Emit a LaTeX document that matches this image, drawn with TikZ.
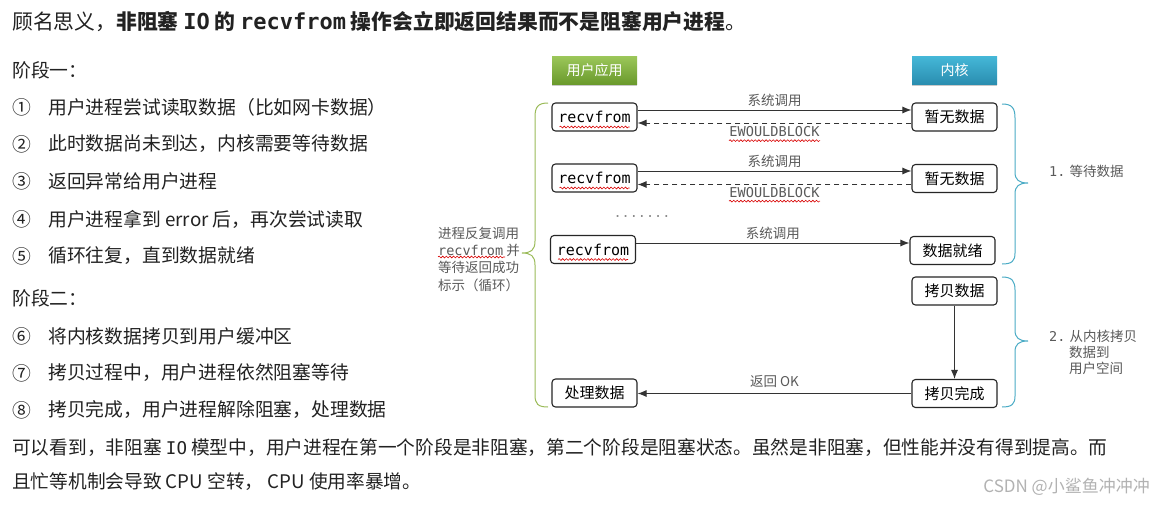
\documentclass[tikz,border=0pt]{standalone}
\usepackage{fontspec}
\setmainfont{Noto Sans CJK SC}
\newfontfamily\mono{DejaVu Sans Mono}
\usetikzlibrary{arrows.meta,decorations.pathmorphing,shadows}
\definecolor{txt}{HTML}{222222}
\definecolor{lblgray}{HTML}{5A5A5A}
\definecolor{gtop}{HTML}{9CC75A}
\definecolor{gbot}{HTML}{6A9A2C}
\definecolor{btop}{HTML}{45B8D8}
\definecolor{bbot}{HTML}{2A8EB0}
\definecolor{bracegreen}{HTML}{9BBB59}
\definecolor{braceblue}{HTML}{4BACC6}
\newcommand\monoT[2]{{\mono\fontsize{#1}{#1}\selectfont #2}}
\tikzset{
 box/.style={draw=black!85, line width=1.1pt, rounded corners=3.5pt, minimum width=85pt, minimum height=28pt, inner sep=0pt, font=\fontsize{15}{18}\selectfont},
 hdr/.style={minimum width=85pt, minimum height=28pt, inner sep=0pt, text=white, font=\fontsize{14}{16}\selectfont, drop shadow={shadow xshift=0pt, shadow yshift=-2pt, opacity=.35, fill=black!60}},
 lbl/.style={text=lblgray, font=\fontsize{13.5}{16}\selectfont, inner sep=0pt},
 body/.style={anchor=west, inner sep=0pt, font=\fontsize{18.8}{24}\selectfont, text=txt},
 arr/.style={draw=black!80, line width=1pt, -{Latex[length=9pt,width=7pt]}},
 dasharr/.style={arr, dash pattern=on 5pt off 4pt},
 squig/.style={draw=red!85!black, line width=.6pt, decorate, decoration={snake, amplitude=.9pt, segment length=3.6pt}},
 bracestyle/.style={line width=1pt},
}
\begin{document}
\begin{tikzpicture}[x=1pt,y=-1pt]
\fill[white] (0,0) rectangle (1164,506);
\useasboundingbox (0,0) rectangle (1164,506);

% ---------- left text ----------
\node[body, font=\fontsize{20.8}{24}\selectfont] (title) at (12,22) {顾名思义，\textbf{非阻塞 \monoT{22}{IO} 的 \monoT{22}{recvfrom} 操作会立即返回结果而不是阻塞用户进程}。};
\node[body] (s1) at (12,70) {阶段一：};
\node[body] (n1) at (12,107) {①}; \node[body] (t1) at (48,107) {用户进程尝试读取数据（比如网卡数据）};
\node[body] (n2) at (12,144) {②}; \node[body] (t2) at (48,144) {此时数据尚未到达，内核需要等待数据};
\node[body] (n3) at (12,181) {③}; \node[body] (t3) at (48,181) {返回异常给用户进程};
\node[body] (n4) at (12,219) {④}; \node[body] (t4) at (48,219) {用户进程拿到 error 后，再次尝试读取};
\node[body] (n5) at (12,256) {⑤}; \node[body] (t5) at (48,256) {循环往复，直到数据就绪};
\node[body] (s2) at (12,298) {阶段二：};
\node[body] (n6) at (12,336) {⑥}; \node[body] (t6) at (48,336) {将内核数据拷贝到用户缓冲区};
\node[body] (n7) at (12,373) {⑦}; \node[body] (t7) at (48,373) {拷贝过程中，用户进程依然阻塞等待};
\node[body] (n8) at (12,410) {⑧}; \node[body] (t8) at (48,410) {拷贝完成，用户进程解除阻塞，处理数据};
\node[body, font=\fontsize{18.7}{24}\selectfont] (b1) at (12,448) {可以看到，非阻塞 \monoT{17.5}{IO} 模型中，用户进程在第一个阶段是非阻塞，第二个阶段是阻塞状态。虽然是非阻塞，但性能并没有得到提高。而};
\node[body, font=\fontsize{18.7}{24}\selectfont] (b2) at (12,482) {且忙等机制会导致 CPU 空转， CPU 使用率暴增。};

% ---------- headers ----------
\node[hdr, top color=gtop, bottom color=gbot] (hu) at (594.5,70) {用户应用};
\node[hdr, top color=btop, bottom color=bbot] (hk) at (954.5,70) {内核};

% ---------- boxes ----------
\node[box] (r1) at (594.5,117) {\monoT{15}{recvfrom}};
\node[box] (r2) at (594.5,178) {\monoT{15}{recvfrom}};
\node[box] (r3) at (593,249.5) {\monoT{15}{recvfrom}};
\node[box] (rp) at (594.5,393) {处理数据};
\node[box] (k1) at (954.5,117) {暂无数据};
\node[box] (k2) at (954.5,178.5) {暂无数据};
\node[box] (k3) at (952.5,250.5) {数据就绪};
\node[box] (kc) at (954.5,291) {拷贝数据};
\node[box] (kd) at (954.5,393.5) {拷贝完成};

% squiggles under recvfrom
\foreach \b in {r1,r2,r3}
  \draw[squig] ([xshift=-35pt,yshift=-10pt]\b.center) -- ([xshift=35pt,yshift=-10pt]\b.center);

% ---------- arrows ----------
\draw[arr] ([yshift=7pt]r1.east) -- ([yshift=7pt]r1.east -| k1.west)
  node[lbl, pos=.5, yshift=10pt] (c1) {系统调用};
\draw[dasharr] ([yshift=-6pt]k1.west) -- ([yshift=-6pt]k1.west -| r1.east)
  node[lbl, pos=.5, yshift=-9pt] (e1) {\monoT{13.6}{EWOULDBLOCK}};
\draw[arr] ([yshift=7pt]r2.east) -- ([yshift=7pt]r2.east -| k2.west)
  node[lbl, pos=.5, yshift=10pt] (c2) {系统调用};
\draw[dasharr] ([yshift=-6pt]k2.west) -- ([yshift=-6pt]k2.west -| r2.east)
  node[lbl, pos=.5, yshift=-8pt] (e2) {\monoT{13.6}{EWOULDBLOCK}};
\draw[arr] ([yshift=6.5pt]r3.east) -- ([yshift=6.5pt]r3.east -| k3.west)
  node[lbl, pos=.5, yshift=10pt] (c3) {系统调用};
\draw[arr] (kc.south) -- (kd.north);
\draw[arr] (kd.west) -- (kd.west -| rp.east)
  node[lbl, pos=.5, yshift=12pt] (ok) {返回 OK};

\draw[squig] ([yshift=-3pt]e1.south west) -- ([yshift=-3pt]e1.south east);
\draw[squig] ([yshift=-3pt]e2.south west) -- ([yshift=-3pt]e2.south east);

\node[lbl, text=lblgray!70] (dots) at (642,216) {\monoT{13.5}{.......}};

% ---------- left brace + label ----------
\draw[bracestyle, draw=bracegreen] (548,103) .. controls (538,103) and (535,107) .. (535,117) -- (535,241)
  .. controls (535,250) and (531,253) .. (522,253)
  .. controls (531,253) and (535,256) .. (535,265) -- (535,395)
  .. controls (535,404) and (538,407) .. (548,407);
\node[lbl, anchor=west] (ll1) at (438,233) {进程反复调用};
\node[lbl, anchor=west] (ll2) at (438,250) {\monoT{13.5}{recvfrom} 并};
\node[lbl, anchor=west] (ll3) at (438,267) {等待返回成功};
\node[lbl, anchor=west] (ll4) at (438,285) {标示（循环）};
\draw[squig] (438,257) -- (505,257);

% ---------- right braces + labels ----------
\draw[bracestyle, draw=braceblue] (1002,104) .. controls (1012,104) and (1015,108) .. (1015,118) -- (1015,172)
  .. controls (1015,180) and (1019,183) .. (1028,183)
  .. controls (1019,183) and (1015,186) .. (1015,194) -- (1015,253)
  .. controls (1015,261) and (1012,264) .. (1002,264);
\draw[bracestyle, draw=braceblue] (1002,277) .. controls (1012,277) and (1015,281) .. (1015,290) -- (1015,330)
  .. controls (1015,338) and (1019,341) .. (1028,341)
  .. controls (1019,341) and (1015,344) .. (1015,352) -- (1015,396)
  .. controls (1015,404) and (1012,407) .. (1002,407);
\node[lbl, anchor=west] (w1) at (1049,171) {\monoT{13.5}{1.} 等待数据};
\node[lbl, anchor=west] (w2) at (1049,336) {\monoT{13.5}{2.} 从内核拷贝};
\node[lbl, anchor=west] (w3) at (1069,352) {数据到};
\node[lbl, anchor=west] (w4) at (1069,368) {用户空间};

% ---------- watermark ----------
\node[anchor=east, inner sep=0pt, text=black!30, font=\fontsize{17}{20}\selectfont] (wm) at (1150,487) {CSDN @小鲨鱼冲冲冲};
\end{tikzpicture}
\end{document}
